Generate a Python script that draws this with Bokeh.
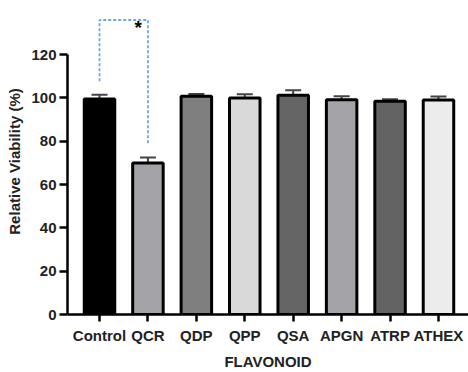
from bokeh.plotting import figure
from bokeh.models import Range1d, FixedTicker, ColumnDataSource, Whisker, TeeHead
from bokeh.embed import file_html
from bokeh.resources import INLINE
from bokeh.core.properties import value

categories = ["Control", "QCR", "QDP", "QPP", "QSA", "APGN", "ATRP", "ATHEX"]
viability = [99.5, 70.0, 100.8, 100.0, 101.2, 99.2, 98.5, 99.0]
errors = [2.0, 2.5, 1.0, 1.7, 2.3, 1.6, 0.9, 1.7]
colors = ["#000000", "#a4a4a8", "#7f7f7f", "#d9d9d9", "#656565", "#a4a4a8", "#636363", "#ececec"]
y_ticks = [0, 20, 40, 60, 80, 100, 120]
# significance bracket: between Control and QCR
sig_pair = (0, 1)
sig_top = 136
sig_left_bottom = 107.7
sig_right_bottom = 79
sig_label = "*"

x = list(range(len(categories)))
src = ColumnDataSource(dict(
    x=x, top=viability, color=colors,
    upper=[v + e for v, e in zip(viability, errors)],
))

FONT = "Liberation Sans"

p = figure(width=468, height=372, output_backend="svg", toolbar_location=None,
           x_range=Range1d(-0.661, 7.62), y_range=Range1d(0, 141.3),
           min_border_left=67, min_border_right=0, min_border_top=8, min_border_bottom=54)
p.outline_line_color = None
p.grid.grid_line_color = None
p.background_fill_color = "white"

p.vbar(x="x", top="top", width=0.63, bottom=0, source=src, fill_color="color",
       line_color="black", line_width=3)

w = Whisker(base="x", upper="upper", lower="top", source=src,
            line_color="#444444", line_width=2,
            upper_head=TeeHead(size=16, line_color="#444444", line_width=2),
            lower_head=None)
p.add_layout(w)

# significance bracket
a, b = sig_pair
p.line([a, a, b, b], [sig_left_bottom, sig_top, sig_top, sig_right_bottom],
       line_color="#6aa8ee", line_width=1.8, line_dash="3 2")
p.text(x=[b - 0.2], y=[sig_top - 3.5], text=[sig_label], text_font=value(FONT),
       text_font_size="19px", text_font_style="bold", text_color="black",
       text_align="center", text_baseline="middle")

# axes
xa = p.xaxis[0]
xa.ticker = FixedTicker(ticks=x)
xa.major_label_overrides = {i: c for i, c in enumerate(categories)}
xa.axis_label = "FLAVONOID"
ya = p.yaxis[0]
ya.ticker = FixedTicker(ticks=y_ticks)
ya.bounds = (0, 120)
ya.axis_label = "Relative Viability (%)"

for ax in (xa, ya):
    ax.axis_line_width = 2.5
    ax.axis_line_color = "black"
    ax.major_tick_line_width = 2.5
    ax.major_tick_line_color = "black"
    ax.major_tick_in = 0
    ax.minor_tick_line_color = None
    ax.major_label_text_font = FONT
    ax.major_label_text_font_style = "bold"
    ax.major_label_text_font_size = "15px"
    ax.major_label_text_color = "#222222"
    ax.axis_label_text_font = FONT
    ax.axis_label_text_font_style = "bold"
    ax.axis_label_text_font_size = "15px"
    ax.axis_label_text_color = "#222222"

xa.major_tick_out = 7
xa.major_label_standoff = 5
xa.axis_label_standoff = 6
ya.major_tick_out = 8
ya.major_label_standoff = 3
ya.axis_label_standoff = 5

open("out.html", "w").write(file_html(p, INLINE))
